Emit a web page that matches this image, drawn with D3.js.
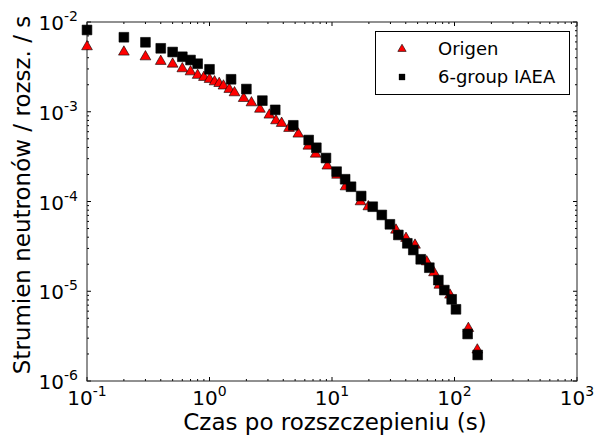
<!DOCTYPE html>
<html><head><meta charset="utf-8">
<script src="https://cdn.jsdelivr.net/npm/d3@7"></script>
<style>body{margin:0;background:#fff}svg{display:block}text{font-family:"DejaVu Sans",sans-serif}</style>
</head><body>
<script>
const origenX = [0.1,0.2,0.3,0.4,0.5,0.6,0.7,0.8,0.9,1.0,1.1,1.2,1.3,1.45,1.6,1.9,2.2,2.58,3.08,3.49,3.88,4.46,5.31,6.41,7.36,9.16,11.0,12.9,17.1,19.8,33.3,40.2,47.6,59.3,68,75.2,91.9,129.7,153.5];
const origenY = [5.31e-3,4.63e-3,4.1e-3,3.65e-3,3.4e-3,3.02e-3,2.79e-3,2.55e-3,2.42e-3,2.3e-3,2.16e-3,2.07e-3,1.94e-3,1.78e-3,1.63e-3,1.41e-3,1.26e-3,1.07e-3,9.2e-4,7.95e-4,7.44e-4,6.54e-4,5.65e-4,4.15e-4,3.38e-4,2.49e-4,1.97e-4,1.46e-4,9.95e-5,8.75e-5,4.81e-5,3.89e-5,3.27e-5,2.13e-5,1.61e-5,1.17e-5,9.08e-6,3.86e-6,2.22e-6];
const iaeaX = [0.1,0.2,0.3,0.4,0.5,0.6,0.7,0.8,1.0,1.5,2.0,2.7,3.44,4.83,6.45,7.45,8.93,10.9,12.8,14.3,17.3,21.5,25.5,29.7,34.8,41.2,46.1,53,62.3,73.8,82.6,94.8,102.8,128,154.6];
const iaeaY = [8.15e-3,6.76e-3,5.94e-3,5.09e-3,4.63e-3,4.1e-3,3.77e-3,3.43e-3,2.97e-3,2.3e-3,1.79e-3,1.33e-3,1.05e-3,7.06e-4,4.84e-4,3.97e-4,3.05e-4,2.15e-4,1.77e-4,1.46e-4,1.15e-4,8.75e-5,7.08e-5,5.57e-5,4.24e-5,3.42e-5,2.88e-5,2.27e-5,1.83e-5,1.33e-5,1.03e-5,8.13e-6,6.29e-6,3.34e-6,1.95e-6];
const xTickExps = [-1,0,1,2,3];
const yTickExps = [-6,-5,-4,-3,-2];
const seriesNames = ["Origen","6-group IAEA"];
const xTitle = "Czas po rozszczepieniu (s)";
const yTitle = "Strumien neutronów / rozsz. / s";

const W=595,H=437, L=87,R=577,T=22,B=381;
const svg=d3.select("body").append("svg").attr("width",W).attr("height",H);
const x=d3.scaleLog().domain([0.1,1000]).range([L,R]);
const y=d3.scaleLog().domain([1e-6,1e-2]).range([B,T]);

const ax=svg.append("g");
function minors(lo,hi){const a=[];for(let e=lo;e<hi;e++)for(let k=2;k<=9;k++)a.push(k*Math.pow(10,e));return a;}
const xMin=minors(-1,3), yMin=minors(-6,-2);
const tickCol="#000";
xMin.forEach(v=>{const px=x(v);ax.append("line").attr("x1",px).attr("x2",px).attr("y1",B).attr("y2",B-2).attr("stroke",tickCol);ax.append("line").attr("x1",px).attr("x2",px).attr("y1",T).attr("y2",T+2).attr("stroke",tickCol);});
xTickExps.forEach(e=>{const px=x(Math.pow(10,e));ax.append("line").attr("x1",px).attr("x2",px).attr("y1",B).attr("y2",B-4).attr("stroke",tickCol);ax.append("line").attr("x1",px).attr("x2",px).attr("y1",T).attr("y2",T+4).attr("stroke",tickCol);});
yMin.forEach(v=>{const py=y(v);ax.append("line").attr("x1",L).attr("x2",L+2).attr("y1",py).attr("y2",py).attr("stroke",tickCol);ax.append("line").attr("x1",R).attr("x2",R-2).attr("y1",py).attr("y2",py).attr("stroke",tickCol);});
yTickExps.forEach(e=>{const py=y(Math.pow(10,e));ax.append("line").attr("x1",L).attr("x2",L+4).attr("y1",py).attr("y2",py).attr("stroke",tickCol);ax.append("line").attr("x1",R).attr("x2",R-4).attr("y1",py).attr("y2",py).attr("stroke",tickCol);});
ax.append("rect").attr("x",L).attr("y",T).attr("width",R-L).attr("height",B-T).attr("fill","none").attr("stroke","#222").attr("stroke-width",1);

const fs=20, sfs=14;
xTickExps.forEach(e=>{const t=svg.append("text").attr("x",x(Math.pow(10,e))).attr("y",B+24).attr("text-anchor","middle").attr("font-size",fs);
 t.append("tspan").text("10"); t.append("tspan").attr("dy",-9).attr("font-size",sfs).text(e);});
yTickExps.forEach(e=>{const t=svg.append("text").attr("x",L-9).attr("y",y(Math.pow(10,e))+8).attr("text-anchor","end").attr("font-size",fs);
 t.append("tspan").text("10"); t.append("tspan").attr("dy",-9).attr("font-size",sfs).text(e);});

svg.append("text").attr("x",335).attr("y",430).attr("text-anchor","middle").attr("font-size",23).text(xTitle);
svg.append("text").attr("transform",`translate(30,195) rotate(-90)`).attr("text-anchor","middle").attr("font-size",23).text(yTitle);

const tri=d3.symbol().type(d3.symbolTriangle).size(50);
const sq=d3.symbol().type(d3.symbolSquare).size(95);
const g=svg.append("g");
g.selectAll(".t").data(origenX.map((v,i)=>[v,origenY[i]])).join("path").attr("d",tri)
 .attr("transform",d=>`translate(${x(d[0])},${y(d[1])})`).attr("fill","#ff0000").attr("stroke","#000").attr("stroke-width",0.6);
g.selectAll(".s").data(iaeaX.map((v,i)=>[v,iaeaY[i]])).join("path").attr("d",sq)
 .attr("transform",d=>`translate(${x(d[0])},${y(d[1])})`).attr("fill","#000").attr("stroke","#000").attr("stroke-width",0.6);

const lg=svg.append("g");
lg.append("rect").attr("x",375.5).attr("y",31.5).attr("width",194).attr("height",63).attr("fill","#fff").attr("stroke","#000");
lg.append("path").attr("d",d3.symbol().type(d3.symbolTriangle).size(30)).attr("transform","translate(402,49)").attr("fill","#ff0000").attr("stroke","#000").attr("stroke-width",0.6);
lg.append("path").attr("d",d3.symbol().type(d3.symbolSquare).size(40)).attr("transform","translate(402,77)").attr("fill","#000");
lg.append("text").attr("x",438).attr("y",55).attr("font-size",18).text(seriesNames[0]);
lg.append("text").attr("x",438).attr("y",83).attr("font-size",18).text(seriesNames[1]);
</script>
</body></html>
